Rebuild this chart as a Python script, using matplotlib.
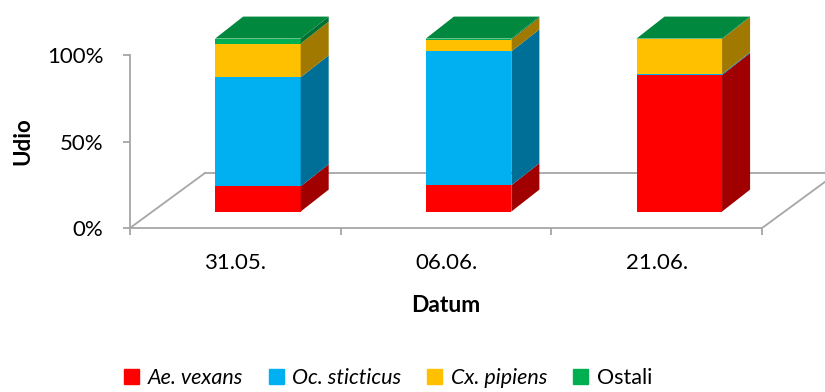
import numpy as np
import matplotlib
matplotlib.use('Agg')
from matplotlib import pyplot as plt
from matplotlib.patches import Polygon, Patch

# podaci (udio po vrsti, %)
datumi = ['31.05.', '06.06.', '21.06.']
ae_vexans = [14.6, 15.2, 78.9]
oc_sticticus = [63.0, 77.4, 0.6]
cx_pipiens = [19.5, 6.8, 20.2]
ostali = [2.9, 0.6, 0.3]
vrste = ['Ae. vexans', 'Oc. sticticus', 'Cx. pipiens', 'Ostali']
boje = ['#ff0000', '#00b0f0', '#ffc000', '#00b050']

plt.rcParams['font.family'] = ['Lato', 'DejaVu Sans']

def tamnije(c, f):
    r, g, b = matplotlib.colors.to_rgb(c)
    return (r * f, g * f, b * f)

fig = plt.figure(figsize=(8.25, 3.92), dpi=100)
ax = fig.add_axes([130 / 825, 164 / 392, 695 / 825, 228 / 392])
ax.set_xlim(-0.5, -0.5 + 695 / 210.7)
ax.set_ylim(0, 228 / 1.73)

# 3D pomaci (dubina poda, polozaj stupca, dubina stupca)
pod_dx, pod_dy = 0.356, 31.8
pom_dx, pom_dy = 0.107, 9.5
dub_dx, dub_dy = 0.133, 12.7
sirina = 0.406

siva = '#a6a6a6'
ax.plot([-0.5, -0.5 + pod_dx], [0, pod_dy], color=siva, lw=1.3, zorder=1)
ax.plot([-0.5 + pod_dx, 2.5 + pod_dx], [pod_dy, pod_dy], color=siva, lw=1.3, zorder=1)
ax.plot([2.5, 2.5 + pod_dx], [0, pod_dy], color=siva, lw=1.3, zorder=1)

x = np.arange(len(datumi))
serije = [ae_vexans, oc_sticticus, cx_pipiens, ostali]
dno = np.zeros(len(datumi))
for vals, c in zip(serije, boje):
    vals = np.array(vals)
    ax.bar(x + pom_dx, vals, width=sirina, bottom=dno + pom_dy, color=c, zorder=3)
    for i in range(len(x)):
        x1 = x[i] + pom_dx + sirina / 2
        y0 = dno[i] + pom_dy
        y1 = y0 + vals[i]
        bok = Polygon([(x1, y0), (x1 + dub_dx, y0 + dub_dy), (x1 + dub_dx, y1 + dub_dy), (x1, y1)],
                      closed=True, facecolor=tamnije(c, 0.63), edgecolor='none', zorder=3)
        ax.add_patch(bok)
    dno = dno + vals

# gornja ploha
for i in range(len(x)):
    x0 = x[i] + pom_dx - sirina / 2
    x1 = x0 + sirina
    y1 = dno[i] + pom_dy
    vrh = Polygon([(x0, y1), (x1, y1), (x1 + dub_dx, y1 + dub_dy), (x0 + dub_dx, y1 + dub_dy)],
                  closed=True, facecolor=tamnije(boje[3], 0.78), edgecolor='none', zorder=4)
    ax.add_patch(vrh)

for s in ['top', 'right']:
    ax.spines[s].set_visible(False)
ax.spines['left'].set_bounds(0, 100)
ax.spines['bottom'].set_bounds(-0.5, 2.5)
for s in ['left', 'bottom']:
    ax.spines[s].set_color(siva)
    ax.spines[s].set_linewidth(1.3)

ax.set_yticks([0, 50, 100])
ax.set_yticklabels(['0%', '50%', '100%'], fontsize=16)
ax.tick_params(axis='y', length=5, width=1.3, color=siva, pad=14)
ax.set_xticks(x)
ax.set_xticklabels(datumi, fontsize=16)
ax.set_xticks([-0.5, 0.5, 1.5, 2.5], minor=True)
ax.tick_params(axis='x', which='major', length=0, pad=18)
ax.tick_params(axis='x', which='minor', length=5, width=1.3, color=siva)

fig.text(23 / 825, 1 - 141 / 392, 'Udio', rotation=90, fontsize=16, fontweight='bold',
         ha='center', va='center')
fig.text(446 / 825, 1 - 305 / 392, 'Datum', fontsize=16.5, fontweight='bold',
         ha='center', va='center')

ruke = [Patch(color=c) for c in boje]
leg = fig.legend(ruke, vrste, loc='center', bbox_to_anchor=(388 / 825, 1 - 378 / 392), ncol=4,
                 frameon=False, fontsize=15.5, handlelength=0.7, handleheight=0.7,
                 handletextpad=0.4, columnspacing=1.2)
for t in leg.get_texts()[:3]:
    t.set_style('italic')

fig.savefig('out.png', dpi=100)
